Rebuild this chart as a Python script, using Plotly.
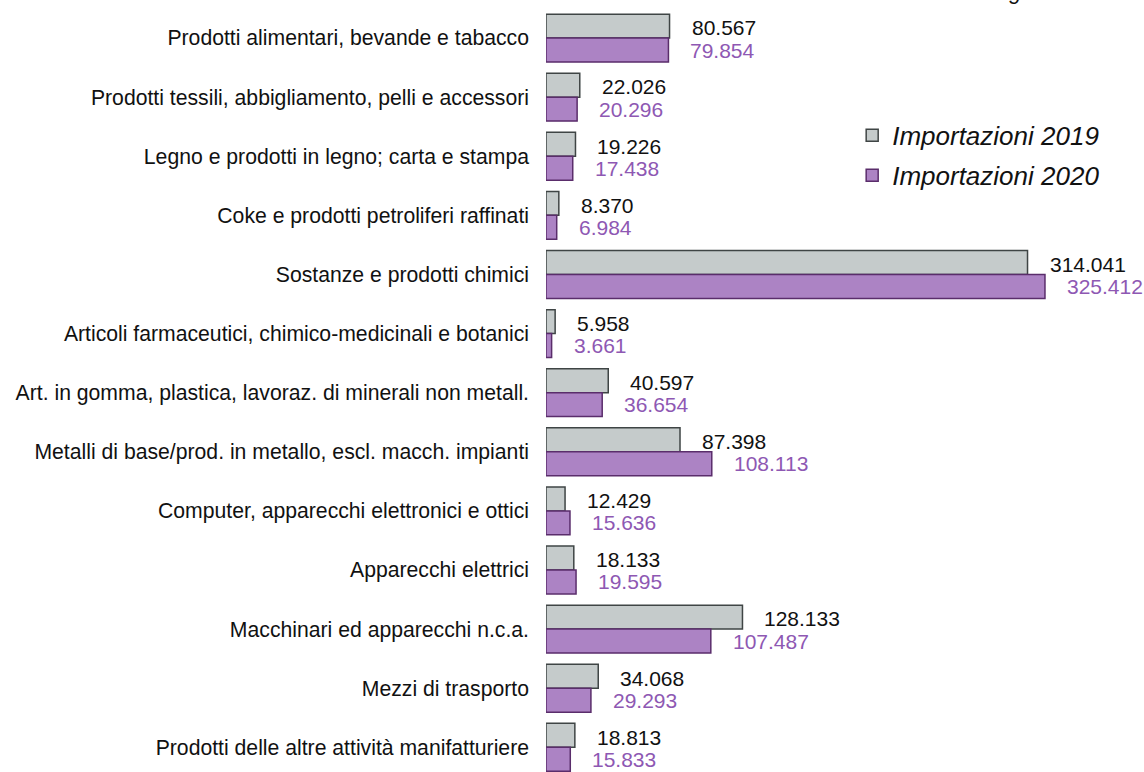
import plotly.graph_objects as go

categories = [
    "Prodotti alimentari, bevande e tabacco",
    "Prodotti tessili, abbigliamento, pelli e accessori",
    "Legno e prodotti in legno; carta e stampa",
    "Coke e prodotti petroliferi raffinati",
    "Sostanze e prodotti chimici",
    "Articoli farmaceutici, chimico-medicinali e botanici",
    "Art. in gomma, plastica, lavoraz. di minerali non metall.",
    "Metalli di base/prod. in metallo, escl. macch. impianti",
    "Computer, apparecchi elettronici e ottici",
    "Apparecchi elettrici",
    "Macchinari ed apparecchi n.c.a.",
    "Mezzi di trasporto",
    "Prodotti delle altre attività manifatturiere",
]
imp_2019 = [80567, 22026, 19226, 8370, 314041, 5958, 40597, 87398, 12429, 18133, 128133, 34068, 18813]
imp_2020 = [79854, 20296, 17438, 6984, 325412, 3661, 36654, 108113, 15636, 19595, 107487, 29293, 15833]
series_names = ["Importazioni 2019", "Importazioni 2020"]
unit_note = "Migliaia di euro"

GRAY_FILL, GRAY_LINE, GRAY_TEXT = "#c5cbcb", "#3f4545", "#111111"
PURP_FILL, PURP_LINE, PURP_TEXT = "#ac83c4", "#5a2d6b", "#8e58b3"
FONT = "Liberation Sans, Arial, sans-serif"


def fmt(v):
    return f"{v:,}".replace(",", ".")


fig = go.Figure()
fig.add_trace(go.Bar(
    y=categories, x=imp_2019, orientation="h", name=series_names[0], legendgroup="a",
    marker=dict(color=GRAY_FILL, line=dict(color=GRAY_LINE, width=1.5)),
))
fig.add_trace(go.Bar(
    y=categories, x=imp_2020, orientation="h", name=series_names[1], legendgroup="b",
    marker=dict(color=PURP_FILL, line=dict(color=PURP_LINE, width=1.5)),
))

bargap = 0.19
half = (1 - bargap) / 4
annotations = []
for i, (a, b) in enumerate(zip(imp_2019, imp_2020)):
    annotations.append(dict(x=a, y=i - half + 0.03, xref="x", yref="y", text=fmt(a),
                            showarrow=False, xanchor="left", yanchor="middle", xshift=20,
                            font=dict(size=21, color=GRAY_TEXT, family=FONT)))
    annotations.append(dict(x=b, y=i + half, xref="x", yref="y", text=fmt(b),
                            showarrow=False, xanchor="left", yanchor="middle", xshift=20,
                            font=dict(size=21, color=PURP_TEXT, family=FONT)))
annotations.append(dict(x=1, y=1, xref="paper", yref="paper", text=unit_note,
                        showarrow=False, xanchor="right", yanchor="bottom", xshift=-8, yshift=-6,
                        font=dict(size=22, color=GRAY_TEXT, family=FONT, style="italic")))

fig.update_layout(
    width=1144, height=772,
    margin=dict(l=546, r=0, t=0, b=0),
    paper_bgcolor="white", plot_bgcolor="white",
    barmode="group", bargap=bargap, bargroupgap=0,
    font=dict(family=FONT, size=21, color=GRAY_TEXT),
    showlegend=True,
    legend=dict(x=0.512, y=0.855, xanchor="left", yanchor="top",
                font=dict(size=26, family=FONT, style="italic", color=GRAY_TEXT),
                bgcolor="rgba(0,0,0,0)", tracegroupgap=3),
    annotations=annotations,
)
fig.update_xaxes(range=[0, 390000], showgrid=False, zeroline=False, showticklabels=False,
                 showline=False)
fig.update_yaxes(categoryorder="array", categoryarray=categories,
                 range=[12.418, -0.644], showgrid=False, zeroline=False, showline=False,
                 ticks="", ticklabelstandoff=16,
                 tickfont=dict(size=21.2, family=FONT, color=GRAY_TEXT))

fig.write_html("out.html", config={"displayModeBar": False},
               post_script="document.body.style.margin='0';document.body.style.overflow='hidden';")
